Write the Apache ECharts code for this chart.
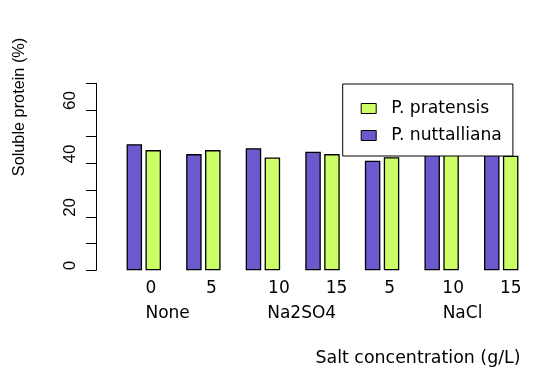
<!DOCTYPE html>
<html>
<head>
<meta charset="utf-8">
<script src="https://cdn.jsdelivr.net/npm/echarts@6/dist/echarts.min.js"></script>
<style>
html,body{margin:0;padding:0;background:#fff;}
#chart{width:534px;height:372px;}
</style>
</head>
<body>
<div id="chart"></div>
<script>
// ---- data ----
const concentrations = ['0', '5', '10', '15', '5', '10', '15'];
const saltGroups = ['None', 'Na2SO4', 'NaCl'];
const saltGroupPos = [0.9, 3.15, 5.85]; // in group units along the x range 0..7
const seriesNames = ['P. nuttalliana', 'P. pratensis'];
const nuttalliana = [47.2, 43.5, 45.7, 44.4, 41.0, 47.0, 46.0];
const pratensis = [45.0, 45.0, 42.2, 43.5, 42.3, 49.0, 42.9];
const yTickLabels = [0, 20, 40, 60];
const yTitle = 'Soluble protein (%)';
const xTitle = 'Salt concentration (g/L)';

// ---- styles ----
const labelShift = [7, 8, 16, 14, 7.5, 11.5, 9.5];
const hFont = 'DejaVu Sans';
const vFont = 'Liberation Sans';
const rich = {};
labelShift.forEach((s, i) => {
  rich['s' + i] = { fontFamily: hFont, fontSize: 17, color: '#000', padding: [0, 0, 0, 2 * s] };
});

const gridTop = 83.3, gridBottom = 101.7;

const chart = echarts.init(document.getElementById('chart'));
chart.setOption({
  animation: false,
  backgroundColor: '#fff',
  grid: [
    { left: 114, right: -7, top: gridTop, bottom: gridBottom, containLabel: false },
    { left: 96, width: 10, top: gridTop, bottom: gridBottom, containLabel: false }
  ],
  xAxis: [
    {
      type: 'category', gridIndex: 0,
      data: concentrations,
      axisLine: { show: false },
      axisTick: { show: false },
      axisLabel: {
        margin: 10,
        interval: 0,
        formatter: (v, i) => '{s' + i + '|' + v + '}',
        rich: rich
      }
    },
    {
      type: 'value', gridIndex: 0,
      min: 0, max: 7, interval: 0.05,
      position: 'bottom',
      axisLine: { show: false },
      axisTick: { show: false },
      splitLine: { show: false },
      axisLabel: {
        margin: 35,
        fontFamily: hFont, fontSize: 17, color: '#000',
        showMinLabel: true, showMaxLabel: true,
        formatter: (v) => {
          for (let k = 0; k < saltGroupPos.length; k++) {
            if (Math.abs(v - saltGroupPos[k]) < 0.001) return saltGroups[k];
          }
          return '';
        }
      }
    },
    {
      type: 'value', gridIndex: 1, min: 0, max: 1,
      show: false
    }
  ],
  yAxis: [
    {
      type: 'value', gridIndex: 0,
      min: 0, max: 70, interval: 10,
      show: false
    },
    {
      type: 'value', gridIndex: 1,
      min: 0, max: 70, interval: 10,
      position: 'left',
      axisLine: { show: true, lineStyle: { color: '#000', width: 1 } },
      axisTick: { show: true, length: 10, lineStyle: { color: '#000', width: 1 } },
      splitLine: { show: false },
      axisLabel: {
        rotate: 90,
        align: 'left',
        verticalAlign: 'bottom',
        margin: 17,
        fontFamily: vFont, fontSize: 17, color: '#000',
        formatter: (v) => yTickLabels.indexOf(v) >= 0 ? String(v) : ''
      }
    }
  ],
  legend: {
    orient: 'vertical',
    left: 342.7, top: 84,
    data: [seriesNames[1], seriesNames[0]],
    backgroundColor: '#fff',
    borderColor: '#000', borderWidth: 1, borderRadius: 0,
    padding: [16, 11, 12, 18],
    itemWidth: 15, itemHeight: 10, itemGap: 10,
    icon: 'rect',
    itemStyle: { borderColor: '#000', borderWidth: 1 },
    textStyle: { fontFamily: hFont, fontSize: 17.2, color: '#000', padding: [0, 0, 0, 10] },
    selectedMode: false
  },
  series: [
    {
      name: seriesNames[0], type: 'bar', data: nuttalliana,
      xAxisIndex: 0, yAxisIndex: 0,
      barWidth: 15.5, barGap: '22%',
      itemStyle: { color: '#6a5acd', borderColor: '#000', borderWidth: 1.3 }
    },
    {
      name: seriesNames[1], type: 'bar', data: pratensis,
      xAxisIndex: 0, yAxisIndex: 0,
      barWidth: 15.5, barGap: '22%',
      itemStyle: { color: '#ccff66', borderColor: '#000', borderWidth: 1.3 }
    }
  ],
  graphic: [
    {
      type: 'text', x: 20, y: 107, rotation: Math.PI / 2,
      style: { text: yTitle, fontFamily: vFont, fontSize: 16.3, fill: '#000', align: 'center', verticalAlign: 'middle' }
    },
    {
      type: 'text', x: 418, y: 358,
      style: { text: xTitle, fontFamily: hFont, fontSize: 17.4, fill: '#000', align: 'center', verticalAlign: 'middle' }
    }
  ]
});
</script>
</body>
</html>
